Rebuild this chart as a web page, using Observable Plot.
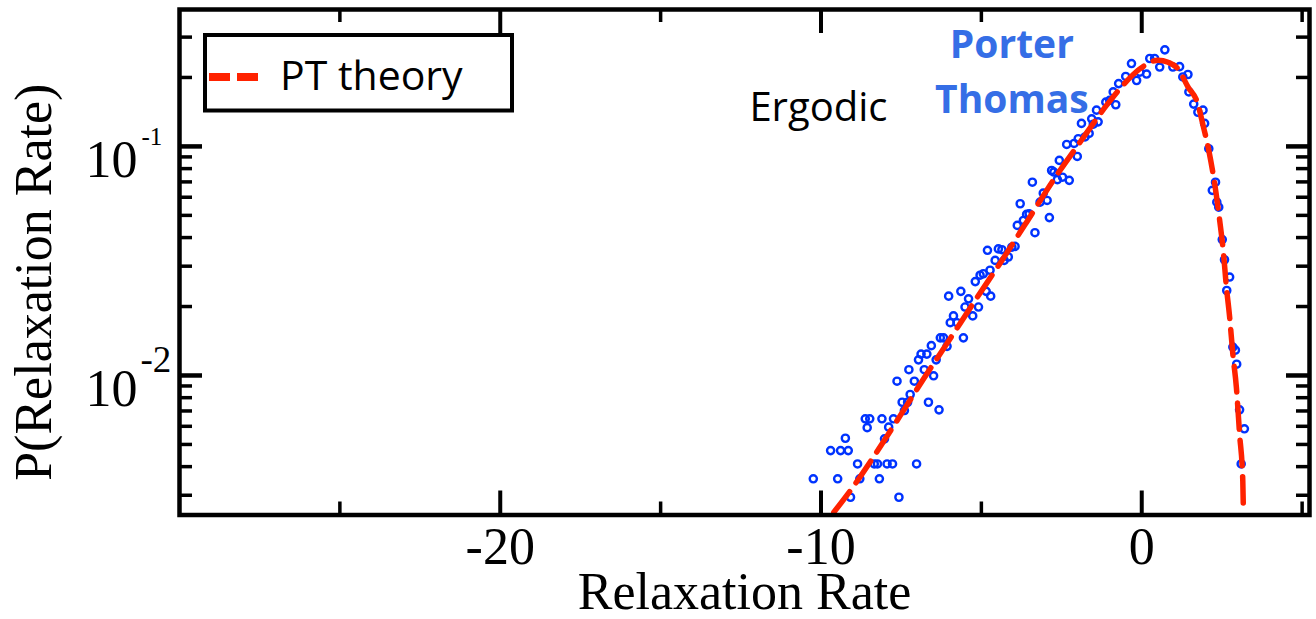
<!DOCTYPE html>
<html><head><meta charset="utf-8">
<script src="https://cdn.jsdelivr.net/npm/d3@7"></script>
<script src="https://cdn.jsdelivr.net/npm/@observablehq/plot@0.6"></script>
<style>html,body{margin:0;padding:0;background:#fff;} svg{display:block}</style>
</head><body><div id="chart"></div>
<script>
// Simulated distribution (blue open circles)
const rateX = [-10.24,-9.48,-9.08,-8.79,-8.86,-9.70,-9.39,-9.15,-9.24,-8.56,
  -8.62,-8.48,-8.10,-7.74,-7.89,-8.02,-8.34,-8.24,-8.18,-7.94,
  -7.77,-7.57,-7.02,-7.40,-7.47,-7.30,-7.22,-7.63,-7.09,-7.26,
  -6.78,-6.49,-6.65,-6.32,-6.96,-6.88,-6.70,-6.41,-6.56,-6.28,
  -6.18,-6.07,-5.56,-5.97,-5.87,-5.76,-5.27,-5.51,-5.40,-5.09,
  -6.02,-5.64,-5.19,-5.04,-4.94,-4.85,-4.71,-4.73,-4.57,-4.81,
  -4.47,-4.36,-4.16,-4.29,-3.95,-3.88,-3.69,-3.59,-3.51,-3.33,
  -3.79,-3.17,-3.07,-2.95,-2.88,-3.41,-2.81,-2.74,-2.63,-2.47,
  -2.26,-2.57,-2.01,-2.34,-2.11,-1.98,-1.77,-1.64,-1.88,-1.51,
  -1.56,-1.36,-1.41,-1.12,-1.00,-0.89,-0.81,-0.72,-0.50,-0.32,
  -0.16,-0.06,0.15,0.25,0.40,0.56,0.72,0.97,1.18,1.28,
  1.44,1.47,1.62,1.75,1.91,1.96,2.09,2.30,2.20,2.34,
  2.40,2.51,2.58,2.74,2.65,2.84,2.92,2.96,3.05,3.20,
  3.10,-4.05];
const rateY = [0.00354,0.00354,0.00294,0.00354,0.00411,0.00470,0.00470,0.00470,0.00532,0.00592,
  0.00647,0.00647,0.00647,0.00647,0.00595,0.00529,0.00411,0.00411,0.00354,0.00411,
  0.00411,0.00294,0.00411,0.00703,0.00764,0.00764,0.00826,0.00944,0.00944,0.0106,
  0.0106,0.00997,0.00764,0.00708,0.0117,0.0124,0.0124,0.0117,0.0135,0.0146,
  0.0146,0.0134,0.0146,0.0170,0.0182,0.0170,0.0182,0.0199,0.0216,0.0199,
  0.0222,0.0233,0.0257,0.0274,0.0278,0.0233,0.0222,0.0288,0.0318,0.0352,
  0.0357,0.0354,0.0329,0.0318,0.0366,0.0452,0.0475,0.0505,0.0508,0.0420,
  0.0562,0.0571,0.0625,0.0581,0.0489,0.0698,0.0785,0.0773,0.0716,0.0734,
  0.0711,0.0869,0.0904,0.102,0.103,0.108,0.110,0.114,0.126,0.125,
  0.132,0.128,0.144,0.156,0.159,0.173,0.152,0.188,0.202,0.230,
  0.194,0.211,0.207,0.242,0.242,0.222,0.264,0.222,0.223,0.201,
  0.206,0.173,0.153,0.141,0.144,0.126,0.0977,0.0698,0.0643,0.0571,
  0.0543,0.0392,0.0320,0.0269,0.0235,0.0133,0.0129,0.0112,0.00708,0.00585,
  0.00411,0.0363];

// Porter–Thomas theory curve (red dashed)
const theoryX = [-9.60,-9.08,-8.30,-7.53,-6.78,-5.97,-5.19,-4.36,-3.59,-2.76,-1.93,-1.10,-0.63,-0.06,0.51,0.82,1.13,1.44,1.75,1.91,2.09,2.32,2.43,2.55,2.63,2.74,2.84,2.95,3.05,3.15,3.17];
const theoryY = [0.00253,0.00315,0.00455,0.00668,0.00977,0.0145,0.0213,0.0318,0.0467,0.0711,0.104,0.151,0.182,0.218,0.238,0.233,0.218,0.182,0.153,0.124,0.0961,0.0621,0.0475,0.0340,0.0251,0.0180,0.0124,0.00889,0.00556,0.00348,0.00249];

// Axes
const xMajorTicks = [-20, -10, 0];
const xTickLabels = ["-20", "-10", "0"];
const xMinorTicks = [-25, -15, -5, 5];
const yMajorTicks = [0.1, 0.01];
const yTickBase = ["10", "10"];
const yTickExp = ["-1", "-2"];
const yMinorTicks = [0.003,0.004,0.005,0.006,0.007,0.008,0.009,0.02,0.03,0.04,0.05,0.06,0.07,0.08,0.09,0.2,0.3];
const xLabel = "Relaxation Rate";
const yLabel = "P(Relaxation Rate)";
const legendLabel = "PT theory";

// Annotations
const noteText = ["Ergodic", "Porter", "Thomas"];
const noteX = [-10.08, -4.05, -4.05];
const noteY = [0.1297, 0.2444, 0.1406];

const points = rateX.map((x, i) => ({x, y: rateY[i]}));
const theory = theoryX.map((x, i) => ({x, y: theoryY[i]}));
const notes = noteText.map((t, i) => ({t, x: noteX[i], y: noteY[i]}));

const W = 1316, H = 619, mL = 179, mR = 7, mT = 9, mB = 104.5;
const plotW = W - mL - mR, plotH = H - mT - mB;
const serif = "'Liberation Serif','Times New Roman',serif";
const sans = "'Open Sans',Lato,sans-serif";

const chart = Plot.plot({
  width: W, height: H,
  marginLeft: mL, marginRight: mR, marginTop: mT, marginBottom: mB,
  style: {background: "#fff", overflow: "visible"},
  x: {domain: [-30, 5.23], axis: null},
  y: {type: "log", domain: [0.00246, 0.396], axis: null},
  marks: [
    Plot.dot(points, {x: "x", y: "y", r: 3.6, stroke: "#0033ff", strokeWidth: 2.4, fill: "none"}),
    Plot.line(theory, {x: "x", y: "y", stroke: "#ff2200", strokeWidth: 5.5, strokeDasharray: "26,11", curve: "monotone-x", clip: true}),
    Plot.tickX(xMajorTicks, {x: d => d, insetTop: plotH - 24, stroke: "#000", strokeWidth: 4}),
    Plot.tickX(xMajorTicks, {x: d => d, insetBottom: plotH - 24, stroke: "#000", strokeWidth: 4}),
    Plot.tickX(xMinorTicks, {x: d => d, insetTop: plotH - 13, stroke: "#000", strokeWidth: 3.5}),
    Plot.tickX(xMinorTicks, {x: d => d, insetBottom: plotH - 13, stroke: "#000", strokeWidth: 3.5}),
    Plot.tickY(yMajorTicks, {y: d => d, insetRight: plotW - 23, stroke: "#000", strokeWidth: 4.5}),
    Plot.tickY(yMajorTicks, {y: d => d, insetLeft: plotW - 23, stroke: "#000", strokeWidth: 4.5}),
    Plot.tickY(yMinorTicks, {y: d => d, insetRight: plotW - 13, stroke: "#000", strokeWidth: 3.5}),
    Plot.tickY(yMinorTicks, {y: d => d, insetLeft: plotW - 13, stroke: "#000", strokeWidth: 3.5}),
    Plot.frame({stroke: "#000", strokeWidth: 4.5}),
    Plot.text(xMajorTicks, {x: d => d, text: (d, i) => xTickLabels[i], frameAnchor: "bottom", dy: 48.5, lineAnchor: "bottom", fontSize: 52, fontFamily: serif, fill: "#000"}),
    Plot.text(yMajorTicks, {y: d => d, text: (d, i) => yTickBase[i], frameAnchor: "left", dx: -42, dy: 31, textAnchor: "end", lineAnchor: "bottom", fontSize: 52, fontFamily: serif, fill: "#000"}),
    Plot.text(yMajorTicks, {filter: (d, i) => i === 0, y: d => d, text: (d, i) => yTickExp[0], frameAnchor: "left", dx: -38, dy: -1, textAnchor: "start", lineAnchor: "bottom", fontSize: 25, fontFamily: serif, fill: "#000"}),
    Plot.text(yMajorTicks, {filter: (d, i) => i === 1, y: d => d, text: (d, i) => yTickExp[1], frameAnchor: "left", dx: -39, dy: -3, textAnchor: "start", lineAnchor: "bottom", fontSize: 37, fontFamily: serif, fill: "#000"}),
    Plot.text([xLabel], {text: d => d, frameAnchor: "bottom", dy: 93.5, lineAnchor: "bottom", fontSize: 52, fontFamily: serif, fill: "#000"}),
    Plot.text([yLabel], {text: d => d, frameAnchor: "left", dx: -129, dy: 20, rotate: -90, textAnchor: "middle", lineAnchor: "bottom", fontSize: 52, fontFamily: serif, fill: "#000"}),
    Plot.text(notes, {filter: (d, i) => i === 0, x: "x", y: "y", text: "t", lineAnchor: "bottom", fontSize: 40, fontFamily: sans, fill: "#000"}),
    Plot.text(notes, {filter: (d, i) => i > 0, x: "x", y: "y", text: "t", lineAnchor: "bottom", fontSize: 39, fontWeight: "bold", fontFamily: sans, fill: "#356ee6"})
  ]
});

const svg = d3.select(chart);
const lg = svg.append("g");
lg.append("rect").attr("x", 205).attr("y", 35).attr("width", 307).attr("height", 75.5)
  .attr("fill", "#fff").attr("stroke", "#000").attr("stroke-width", 4);
lg.append("line").attr("x1", 209).attr("x2", 258).attr("y1", 77).attr("y2", 77)
  .attr("stroke", "#ff2200").attr("stroke-width", 8).attr("stroke-dasharray", "21,7");
lg.append("text").attr("x", 280).attr("y", 89.5).attr("text-anchor", "start")
  .attr("font-family", sans).attr("font-size", 41).attr("fill", "#000").text(legendLabel);

document.getElementById("chart").appendChild(chart);
</script>
</body></html>
